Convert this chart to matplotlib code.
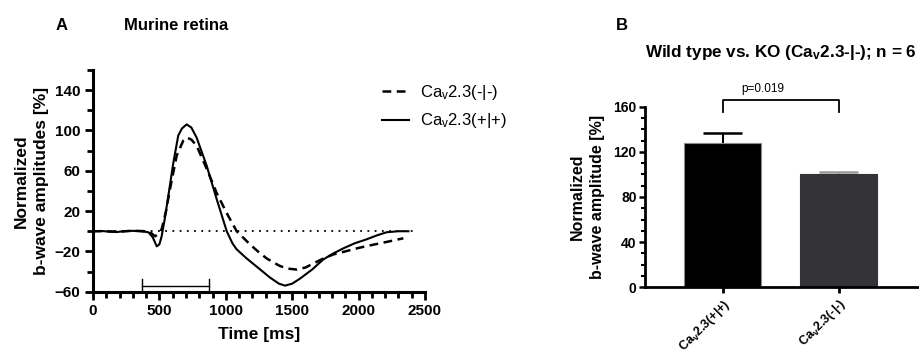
import matplotlib
matplotlib.use("Agg")
import matplotlib.pyplot as plt
from matplotlib.ticker import MultipleLocator, FixedLocator

plt.rcParams['font.family'] = ['Liberation Sans', 'DejaVu Sans']
plt.rcParams['mathtext.fontset'] = 'custom'
plt.rcParams['mathtext.rm'] = 'Liberation Sans'
plt.rcParams['mathtext.bf'] = 'Liberation Sans:bold'
plt.rcParams['mathtext.it'] = 'Liberation Sans:italic'

# ---------------- data: panel A (ERG traces) ----------------
time_plus = [0, 60, 120, 180, 240, 300, 360, 417, 450, 480, 500, 517, 540, 567, 605, 642,
             670, 705, 740, 780, 856, 931, 1007, 1050, 1082, 1157, 1250, 1333, 1400, 1446,
             1500, 1559, 1650, 1734, 1810, 1885, 1970, 2061, 2140, 2211, 2300, 2375]
amp_plus = [0, 0.3, -0.4, -0.8, 0.2, 0.4, 0.0, -1, -6, -15, -13, -5, 12, 35, 68, 95,
            102, 106, 103, 93, 65, 32, 0, -12, -18, -27, -37, -46, -52, -54,
            -52, -47, -38, -28, -22, -17, -12, -8, -4, -1, 0, 0]

time_minus = [0, 100, 200, 300, 400, 440, 467, 490, 517, 550, 580, 630, 680, 705, 740,
              780, 856, 931, 1007, 1082, 1182, 1250, 1308, 1400, 1458, 1534, 1600, 1659,
              1735, 1810, 1900, 1986, 2070, 2161, 2250, 2337]
amp_minus = [0, 0, -0.5, 0.5, 0, -2, -5, -3, 2, 20, 42, 75, 90, 93, 91,
             85, 62, 38, 18, 0, -13, -21, -27, -34, -37, -38, -36, -32,
             -27, -23, -20, -17, -14.5, -12, -9.5, -7]

stim_start, stim_end = 370, 875
labels_A = [r'Ca$_\mathregular{v}$2.3(-|-)', r'Ca$_\mathregular{v}$2.3(+|+)']

# ---------------- data: panel B (bar chart) ----------------
groups_B = [r'Ca$_\mathbf{v}$2.3(+|+)', r'Ca$_\mathbf{v}$2.3(-|-)']
means_B = [128, 100.3]
sems_B = [9, 2]
p_text = 'p=0.019'

fig = plt.figure(figsize=(9.19, 3.53), dpi=100)

# ---------------- panel A ----------------
axA = fig.add_axes([93/919, 1 - 291.7/353, 332/919, (291.7 - 70)/353])
axA.plot([0, 2450], [0, 0], color='black', lw=1.3, ls=(0, (1, 3)))
axA.plot(time_minus, amp_minus, color='black', lw=1.8, ls=(0, (3.5, 2.2)), label=labels_A[0])
axA.plot(time_plus, amp_plus, color='black', lw=1.5, label=labels_A[1])
# stimulus bar
axA.plot([stim_start, stim_end], [-54, -54], color='black', lw=1.0)
axA.plot([stim_start, stim_start], [-60, -47], color='black', lw=1.0)
axA.plot([stim_end, stim_end], [-60, -47], color='black', lw=1.0)

axA.set_xlim(0, 2500)
axA.set_ylim(-60, 160)
axA.xaxis.set_major_locator(MultipleLocator(500))
axA.xaxis.set_minor_locator(MultipleLocator(100))
axA.yaxis.set_major_locator(FixedLocator([-60, -20, 20, 60, 100, 140]))
axA.yaxis.set_minor_locator(FixedLocator([-40, 0, 40, 80, 120, 160]))
for s in ['top', 'right']:
    axA.spines[s].set_visible(False)
for s in ['left', 'bottom']:
    axA.spines[s].set_linewidth(2.2)
axA.tick_params(axis='both', which='major', length=6, width=2, labelsize=11, pad=3)
axA.tick_params(axis='both', which='minor', length=4, width=2)
for lab in axA.get_xticklabels() + axA.get_yticklabels():
    lab.set_fontweight('bold')
axA.set_xlabel('Time [ms]', fontsize=12.5, fontweight='bold', labelpad=6)
axA.set_ylabel('Normalized\nb-wave amplitudes [%]', fontsize=12.5, fontweight='bold', labelpad=4,
               linespacing=1.4)
leg = axA.legend(loc='upper left', bbox_to_anchor=(0.85, 0.97), frameon=False, fontsize=12,
                 handlelength=1.6, handletextpad=0.7, labelspacing=0.55, borderaxespad=0)

fig.text(62/919, 1 - 25/353, 'A', fontsize=12, fontweight='bold', ha='center', va='center')
fig.text(124/919, 1 - 25/353, 'Murine retina', fontsize=12, fontweight='bold', ha='left', va='center')

# ---------------- panel B ----------------
axB = fig.add_axes([645/919, 1 - 287.3/353, 273/919, (287.3 - 106.7)/353])
xpos = [0, 1]
bar_colors = ['black', '#333338']
edge_colors = ['#8a8a8a', '#333338']
err_colors = ['black', '#9a9a9a']
cap_half = 0.168
for i in range(2):
    axB.bar(xpos[i], means_B[i], width=0.66, color=bar_colors[i], edgecolor=edge_colors[i],
            linewidth=0.8, zorder=2)
    top = means_B[i] + sems_B[i]
    axB.vlines(xpos[i], means_B[i], top, color=err_colors[i], lw=1.5, zorder=3)
    axB.hlines(top, xpos[i] - cap_half, xpos[i] + cap_half, color=err_colors[i], lw=1.8, zorder=3)
# significance bracket
axB.plot([xpos[0], xpos[0], xpos[1], xpos[1]], [155, 166, 166, 155], color='black', lw=1.3,
         clip_on=False)
axB.text(0.35, 170, p_text, fontsize=8.5, ha='center', va='bottom')

axB.set_xlim(-0.67, 1.685)
axB.set_ylim(0, 160)
axB.yaxis.set_major_locator(MultipleLocator(40))
axB.yaxis.set_minor_locator(MultipleLocator(10))
axB.set_xticks(xpos)
axB.set_xticklabels(groups_B, rotation=45, ha='right', rotation_mode='anchor',
                    fontsize=9, fontweight='bold')
for s in ['top', 'right']:
    axB.spines[s].set_visible(False)
for s in ['left', 'bottom']:
    axB.spines[s].set_linewidth(2.0)
axB.tick_params(axis='y', which='major', length=4, width=1.8, labelsize=10, pad=2)
axB.tick_params(axis='y', which='minor', length=3, width=1.5)
axB.tick_params(axis='x', which='major', length=4, width=2, pad=2.5)
for lab in axB.get_yticklabels():
    lab.set_fontweight('bold')
axB.set_ylabel('Normalized\nb-wave amplitude [%]', fontsize=11.5, fontweight='bold', labelpad=6,
               linespacing=1.45)

fig.text(622/919, 1 - 25/353, 'B', fontsize=12, fontweight='bold', ha='center', va='center')
fig.text(781/919, 1 - 52/353, r'Wild type vs. KO (Ca$_\mathbf{v}$2.3-|-); n = 6', fontsize=12.3,
         fontweight='bold', ha='center', va='center')

fig.savefig('out.png', dpi=100)
